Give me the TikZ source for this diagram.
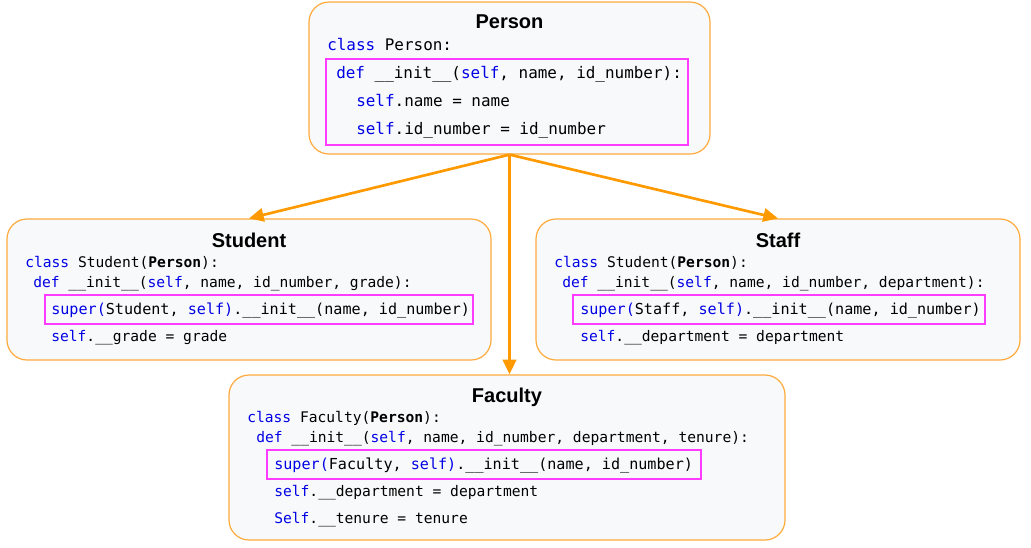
\documentclass[tikz,border=0pt]{standalone}
\usepackage{fontspec}
\setmainfont{Liberation Sans}
\newfontfamily\codefont{DejaVu Sans Mono}
\usetikzlibrary{arrows.meta}
\definecolor{naranja}{RGB}{255,153,0}
\definecolor{borde}{RGB}{255,170,60}
\definecolor{fondo}{RGB}{248,249,250}
\definecolor{rosa}{RGB}{255,60,255}
\definecolor{clave}{RGB}{0,0,230}
\newcommand{\kw}[1]{\textcolor{clave}{#1}}
\frenchspacing
\begin{document}
\begin{tikzpicture}[
        x=0.75pt, y=-0.75pt,
        clase/.style={rectangle, rounded corners=15pt, draw=borde, fill=fondo, line width=0.9pt},
        marco/.style={rectangle, draw=rosa, line width=1pt},
        titulo/.style={anchor=base, inner sep=0pt, font=\fontsize{15}{18}\selectfont\bfseries},
        codigo/.style={anchor=base west, inner sep=0pt, font=\codefont\fontsize{10.96}{13}\selectfont},
        codigoA/.style={codigo, font=\codefont\fontsize{11.96}{14}\selectfont},
        codigoB/.style={codigo, font=\codefont\fontsize{11.34}{13}\selectfont},
        herencia/.style={-{Triangle[length=11pt,width=10pt]}, naranja, line width=2pt}
    ]
        \useasboundingbox (0,0) rectangle (1031,547);

        % Clases
        \node[clase, minimum width=300.75pt, minimum height=114pt] (person) at (509.5,78) {};
        \node[clase, minimum width=363pt, minimum height=105.75pt] (student) at (249,289.5) {};
        \node[clase, minimum width=363pt, minimum height=105.75pt] (staff) at (778,289.5) {};
        \node[clase, minimum width=417pt, minimum height=123.75pt] (faculty) at (507,457.5) {};

        % Marcos
        \node[marco, minimum width=271.5pt, minimum height=64.5pt] (personinit) at (507,102) {};
        \node[marco, minimum width=321pt, minimum height=21.75pt] (studentsuper) at (259,309.5) {};
        \node[marco, minimum width=309pt, minimum height=21.75pt] (staffsuper) at (779,309.5) {};
        \node[marco, minimum width=325.5pt, minimum height=21.75pt] (facultysuper) at (484,464.5) {};

        % Titulos
        \node[titulo] (persontit) at (509.5,28) {Person};
        \node[titulo] (studenttit) at (249,247) {Student};
        \node[titulo] (stafftit) at (778,247) {Staff};
        \node[titulo] (facultytit) at (507,402) {Faculty};

        % Codigo
        \node[codigoA] (p1) at (327,50) {\kw{class} Person:};
        \node[codigoA] (p2) at (336,78) {\kw{def} \_\_init\_\_(\kw{self}, name, id\_number):};
        \node[codigoA] (p3) at (356,106) {\kw{self}.name = name};
        \node[codigoA] (p4) at (356,134) {\kw{self}.id\_number = id\_number};

        \node[codigo] (s1) at (25,267) {\kw{class} Student(\textbf{Person}):};
        \node[codigo] (s2) at (33,287) {\kw{def} \_\_init\_\_(\kw{self}, name, id\_number, grade):};
        \node[codigoB] (s3) at (51,314) {\kw{super(}Student, \kw{self)}.\_\_init\_\_(name, id\_number)};
        \node[codigo] (s4) at (51,341) {\kw{self}.\_\_grade = grade};

        \node[codigo] (t1) at (554,267) {\kw{class} Student(\textbf{Person}):};
        \node[codigo] (t2) at (562,287) {\kw{def} \_\_init\_\_(\kw{self}, name, id\_number, department):};
        \node[codigoB] (t3) at (580,314) {\kw{super(}Staff, \kw{self)}.\_\_init\_\_(name, id\_number)};
        \node[codigo] (t4) at (580,341) {\kw{self}.\_\_department = department};

        \node[codigo] (f1) at (247,422) {\kw{class} Faculty(\textbf{Person}):};
        \node[codigo] (f2) at (256,442) {\kw{def} \_\_init\_\_(\kw{self}, name, id\_number, department, tenure):};
        \node[codigoB] (f3) at (274,469) {\kw{super(}Faculty, \kw{self)}.\_\_init\_\_(name, id\_number)};
        \node[codigo] (f4) at (274,496) {\kw{self}.\_\_department = department};
        \node[codigo] (f5) at (274,523) {\kw{Self}.\_\_tenure = tenure};

        % Herencia
        \draw[herencia] (person.south) -- (student.north);
        \draw[herencia] (person.south) -- (staff.north);
        \draw[herencia] (person.south) -- (person.south |- faculty.north);

    \end{tikzpicture}
\end{document}
